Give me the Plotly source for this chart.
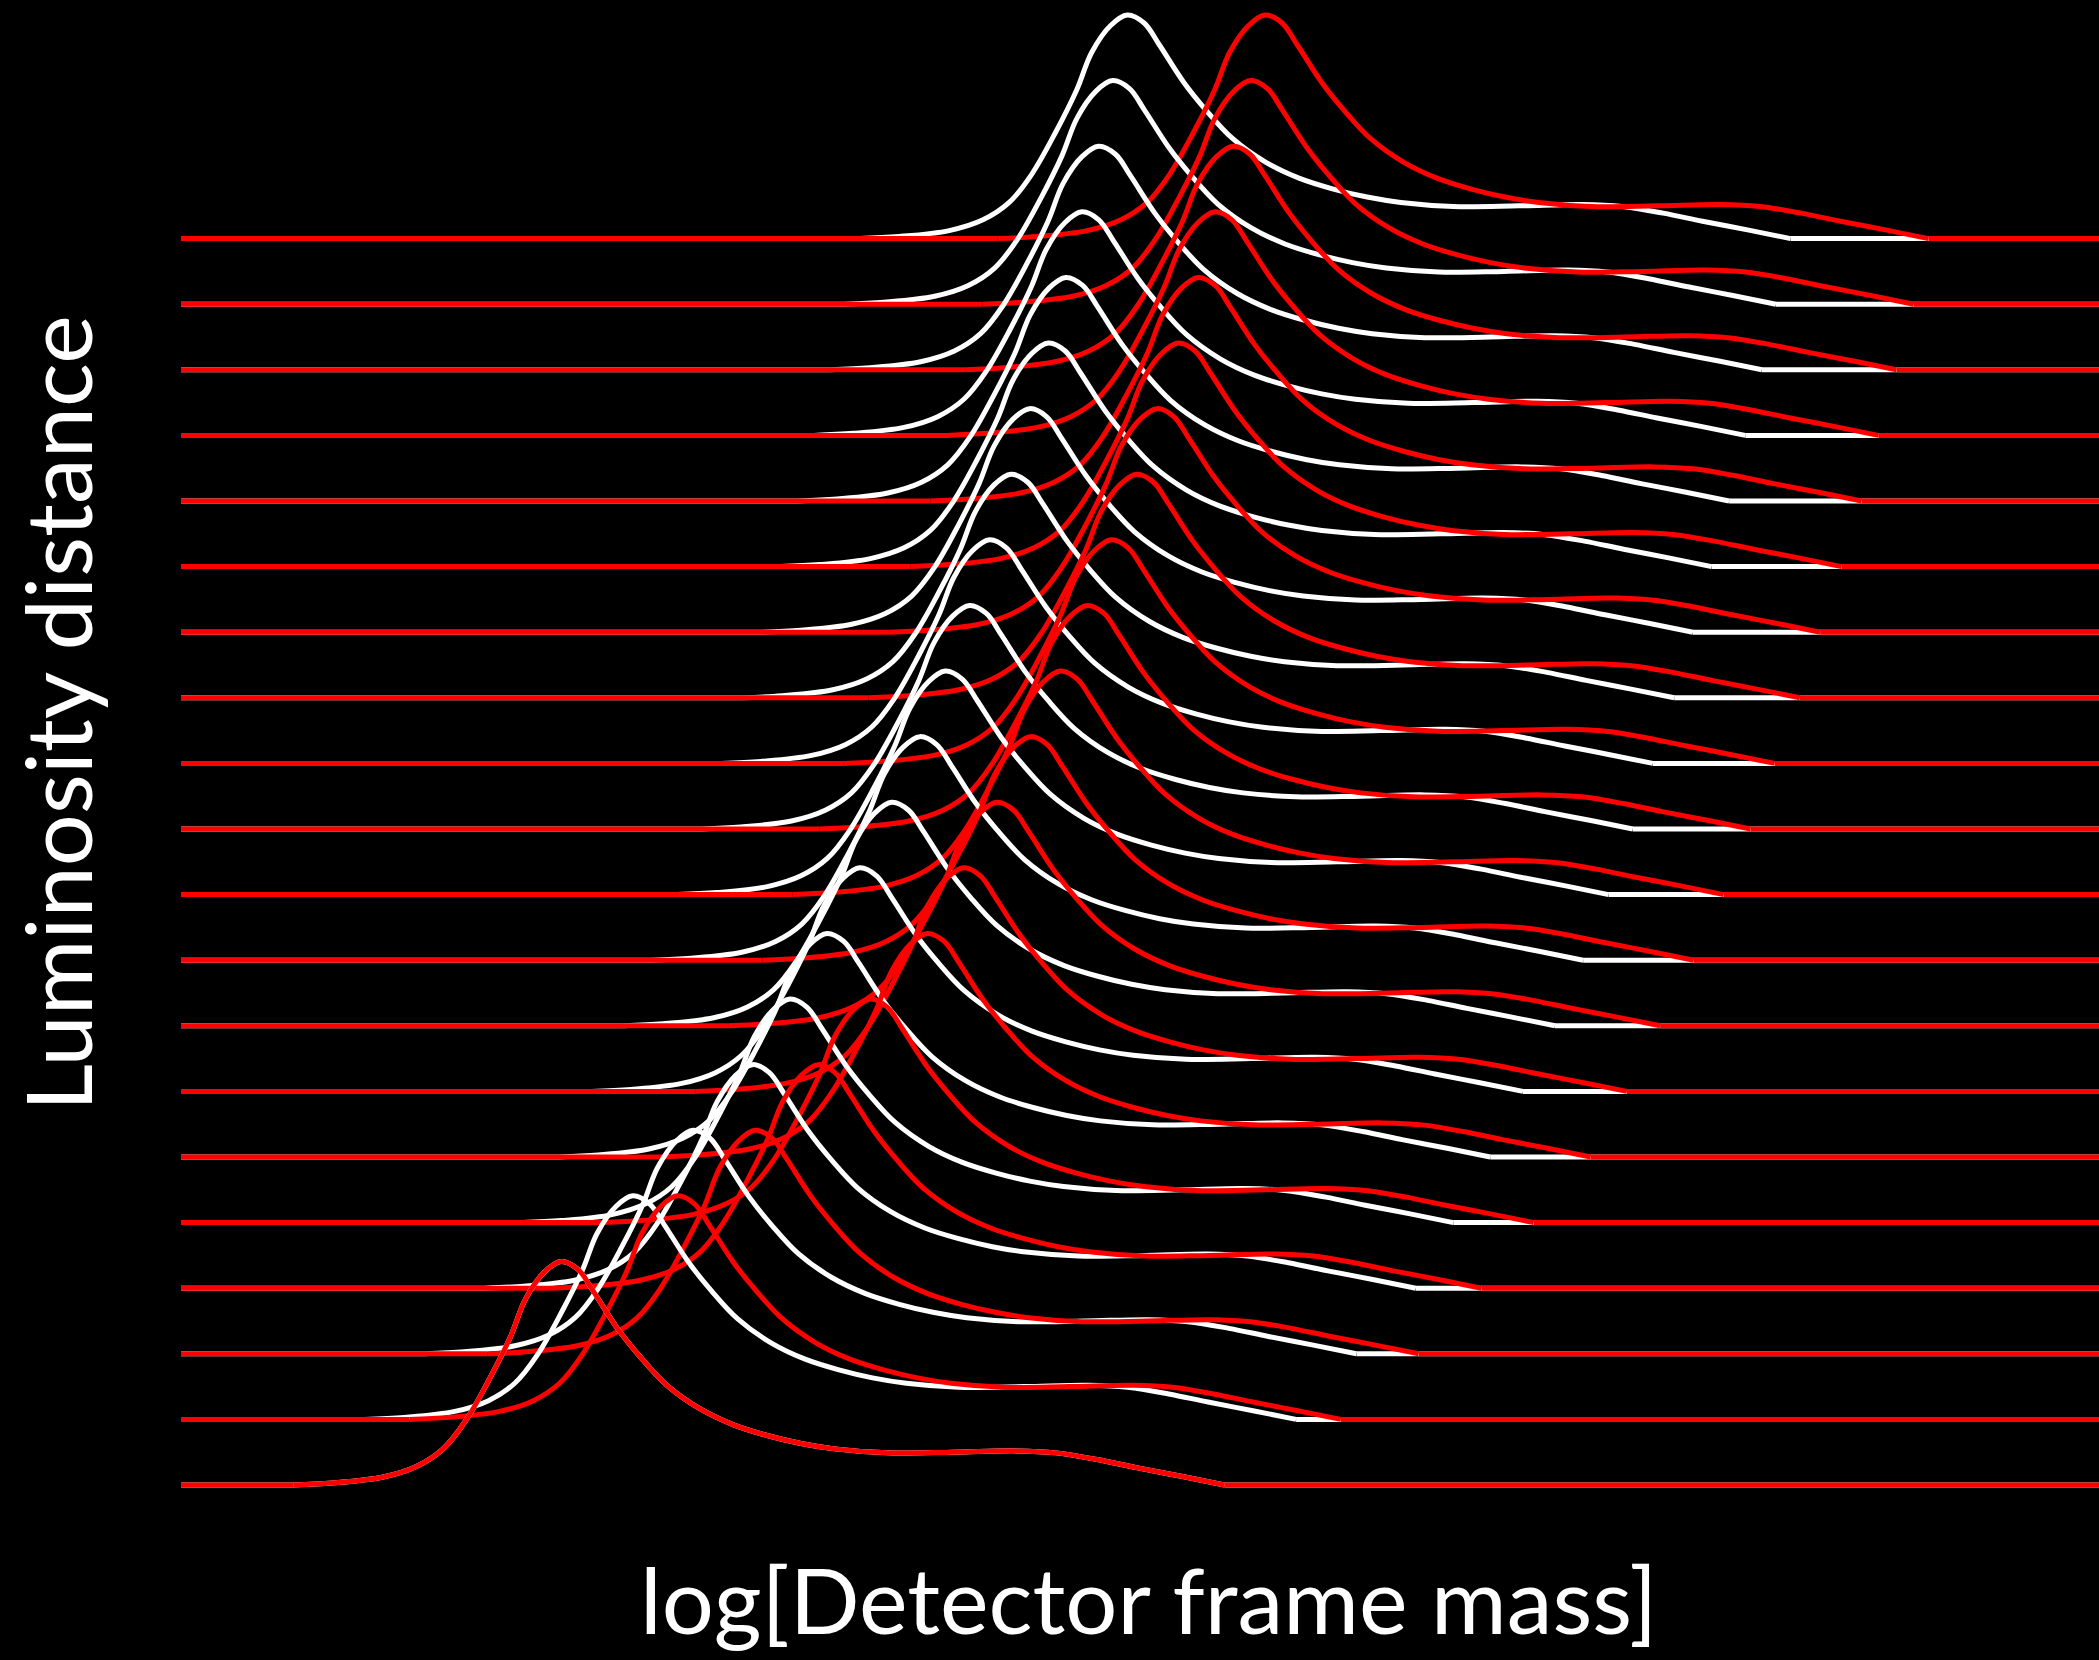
import plotly.graph_objects as go

# Source-frame (nearest row) log-mass profile and its density (in row-spacing units)
profile_logm = [0.957, 0.978, 1.005, 1.023, 1.037, 1.049, 1.062, 1.073, 1.081, 1.091,
                1.100, 1.109, 1.117, 1.130, 1.142, 1.156, 1.174, 1.192, 1.210, 1.228,
                1.246, 1.274, 1.309, 1.343, 1.364, 1.386, 1.407, 1.431, 1.454]
profile_density = [0.0, 0.031, 0.122, 0.286, 0.551, 0.980, 1.633, 2.265, 2.837, 3.245,
                   3.408, 3.286, 2.959, 2.388, 1.959, 1.531, 1.163, 0.918, 0.755, 0.633,
                   0.551, 0.490, 0.500, 0.520, 0.490, 0.388, 0.265, 0.133, 0.0]

# Per-row shift log(1+z) for each luminosity-distance row (row 0 = bottom)
shift_white = [0.0, 0.0382, 0.0704, 0.1021, 0.1221, 0.1418, 0.1593, 0.1764, 0.1914, 0.2050,
               0.2179, 0.2286, 0.2400, 0.2500, 0.2600, 0.2693, 0.2779, 0.2868, 0.2943, 0.3021]
shift_red = [0.0, 0.0621, 0.1036, 0.1371, 0.1650, 0.1954, 0.2147, 0.2325, 0.2504, 0.2664,
             0.2807, 0.2936, 0.3071, 0.3179, 0.3293, 0.3400, 0.3489, 0.3586, 0.3679, 0.3757]

X_RANGE = [0.8971, 1.9207]
Y_RANGE = [-1.143, 22.637]

fig = go.Figure()
n_rows = len(shift_red)
for k in range(n_rows - 1, -1, -1):
    for shifts, color in ((shift_white, "#FFFFFF"), (shift_red, "#FF0000")):
        xs = [m + shifts[k] for m in profile_logm]
        ys = [k + d for d in profile_density]
        # flat baseline on both sides
        fig.add_trace(go.Scatter(
            x=[X_RANGE[0], xs[0], None, xs[-1], X_RANGE[1]],
            y=[k, k, None, k, k],
            mode="lines", line=dict(color=color, width=5),
            hoverinfo="skip", showlegend=False, connectgaps=False))
        fig.add_trace(go.Scatter(
            x=xs, y=ys, mode="lines",
            line=dict(color=color, width=5, shape="spline", smoothing=1.0),
            hoverinfo="skip", showlegend=False))

FONT = "Lato"
fig.update_layout(
    width=2099, height=1660,
    paper_bgcolor="black", plot_bgcolor="black",
    margin=dict(l=181, r=0, t=0, b=100),
    xaxis=dict(range=X_RANGE, visible=False, showgrid=False, zeroline=False),
    yaxis=dict(range=Y_RANGE, visible=False, showgrid=False, zeroline=False),
    annotations=[
        dict(text="log[Detector frame mass]", xref="paper", yref="paper",
             x=0.5042, y=-0.025, xanchor="center", yanchor="middle",
             showarrow=False, font=dict(family=FONT, size=92, color="white")),
        dict(text="Luminosity distance", xref="paper", yref="paper",
             x=-0.0645, y=0.543, xanchor="center", yanchor="middle", textangle=-90,
             showarrow=False, font=dict(family=FONT, size=92, color="white")),
    ],
)

fig.write_html("out.html", config={"displayModeBar": False},
               post_script="document.body.style.margin='0';document.body.style.padding='0';"
                           "document.body.style.background='black';"
                           "document.documentElement.style.overflow='hidden';")
